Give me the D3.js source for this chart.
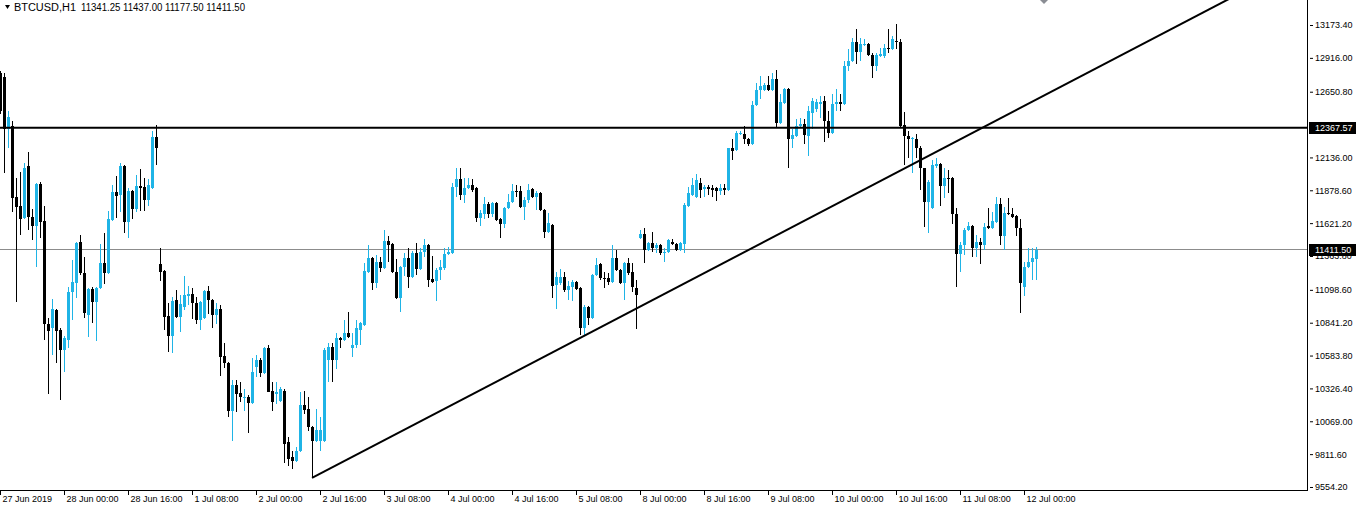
<!DOCTYPE html>
<html><head><meta charset="utf-8">
<script src="https://cdn.jsdelivr.net/npm/d3@7"></script>
<style>
html,body{margin:0;padding:0;background:#fff;overflow:hidden;}
svg{display:block;}
text{font-family:"Liberation Sans",Arial,sans-serif;}
</style></head><body>
<svg id="chart" width="1358" height="510"></svg>
<script>
// ---------------- data ----------------
const symbolTitle = "BTCUSD,H1";
const titleValues = "11341.25 11437.00 11177.50 11411.50";

const open = [
12798,12767,12362,12385,11823,11753,11660,12065,11667,11597,
11925,11636,10833,10802,10942,10786,10630,10708,11082,11153,
11472,11231,10903,11106,11004,11114,11309,11231,11644,11862,
11839,12065,11628,11870,11730,11909,11901,11800,11894,12299,
11301,11246,10895,10739,11020,10887,10965,11051,11067,10997,
10864,10880,11090,11020,10903,10950,10583,10529,10146,10357,
10287,10256,10263,10209,10497,10552,10451,10646,10310,10279,
10224,10310,9905,9788,9756,9834,10193,10162,10022,9912,
9912,9912,10552,10653,10552,10724,10708,10763,10646,10669,
10786,10825,11238,11348,11153,11316,11270,11480,11457,11238,
11036,11277,11348,11199,11387,11262,11394,11449,11184,11168,
11254,11270,11379,11387,11901,11964,11839,11894,11917,11894,
11660,11691,11769,11691,11777,11652,11613,11738,11784,11870,
11870,11745,11800,11886,11823,11855,11722,11550,11605,11137,
11153,11199,11098,11121,11160,11114,10802,10965,10880,11215,
11301,11192,11192,11160,11348,11254,11153,11309,11238,11114,
11504,11535,11410,11465,11426,11449,11387,11394,11472,11457,
11410,11457,11753,11839,11823,11933,11886,11901,11894,11894,
11870,11894,11878,12206,12198,12323,12323,12284,12245,12549,
12666,12666,12705,12666,12752,12408,12564,12674,12284,12307,
12385,12401,12307,12486,12518,12557,12580,12424,12330,12557,
12572,12557,12853,12892,13040,12962,13017,13025,12939,12853,
12931,12931,12993,12986,13048,13040,12393,12307,12284,12284,
12206,12050,11784,11738,12065,12081,11909,11972,11972,11691,
11379,11449,11566,11597,11426,11472,11449,11597,11582,11628,
11769,11519,11699,11691,11675,11582,11121,11277,11316,11341.25
];
const high = [
12814,12798,12502,12424,11972,12018,12096,12182,11730,11933,
11940,11753,10880,11028,10950,10802,10739,11121,11332,11472,
11527,11355,11114,11121,11121,11457,11543,11714,11917,11987,
12096,12073,11894,11878,11995,12042,11972,11964,12346,12393,
11426,11254,10997,11043,11098,11059,11207,11129,11114,11043,
11012,11098,11129,11028,10997,10981,10685,10536,10396,10396,
10380,10318,10271,10568,10591,10568,10653,10669,10373,10373,
10334,10318,9944,9834,9866,10295,10310,10256,10029,10162,
10100,10646,10685,10685,10763,10731,10864,10926,10763,10864,
10848,11309,11449,11355,11371,11355,11566,11519,11465,11340,
11285,11387,11426,11402,11465,11426,11496,11457,11363,11270,
11332,11426,11433,11933,12050,12050,11972,11972,11964,11901,
11722,11823,11784,11784,11784,11660,11745,11847,11925,11917,
11909,11823,11925,11894,11870,11862,11730,11699,11613,11238,
11262,11238,11168,11176,11168,11121,10981,10973,11223,11348,
11309,11238,11231,11449,11410,11262,11316,11348,11309,11176,
11566,11582,11472,11550,11465,11457,11426,11496,11496,11465,
11472,11777,11901,11972,12003,11972,11917,11917,11917,11901,
11925,11925,12213,12284,12346,12346,12385,12291,12580,12720,
12775,12720,12775,12798,12822,12635,12681,12681,12362,12440,
12447,12440,12541,12603,12596,12619,12619,12502,12635,12674,
12635,12892,12986,13071,13142,13071,13064,13032,12954,12954,
12993,13025,13142,13087,13181,13064,12494,12346,12299,12323,
12229,12057,11956,12112,12128,12089,12050,12034,11979,11738,
11472,11582,11628,11605,11527,11504,11621,11738,11706,11823,
11816,11745,11816,11738,11683,11652,11316,11426,11426,11437.00
];
const low = [
12479,12011,12206,11706,11004,11527,11652,11566,11488,11277,
11504,10708,10279,10591,10529,10232,10458,10646,10864,11036,
11215,10880,10731,10841,10700,11106,11145,11223,11636,11660,
11706,11543,11504,11652,11706,11714,11714,11753,11886,12073,
11168,10786,10614,10607,10880,10770,10942,10981,10872,10833,
10786,10872,10911,10802,10833,10427,10490,10100,9912,10139,
10217,10146,9975,10201,10412,10412,10443,10295,10146,10201,
10217,9741,9717,9694,9749,9827,10123,9990,9632,9905,
9834,9905,10373,10380,10482,10646,10700,10724,10575,10646,
10669,10817,11231,11098,11114,11238,11262,11316,11231,11028,
10926,11207,11114,11192,11215,11254,11355,11121,11153,11012,
11176,11254,11371,11379,11823,11800,11777,11886,11862,11628,
11597,11652,11660,11667,11636,11504,11582,11730,11777,11823,
11738,11644,11777,11816,11722,11714,11504,11543,11036,10950,
11137,11082,11020,11012,11098,10747,10747,10825,10872,11207,
11176,11114,11137,11153,11246,11145,11020,11215,11082,10794,
11496,11309,11402,11394,11387,11371,11316,11387,11449,11402,
11402,11387,11745,11831,11816,11816,11823,11839,11823,11792,
11839,11839,11870,12112,12190,12315,12245,12229,12237,12541,
12596,12658,12658,12658,12369,12401,12557,12050,12206,12299,
12377,12245,12151,12362,12494,12447,12260,12291,12323,12502,
12502,12549,12814,12884,12869,12892,13009,12931,12759,12814,
12923,12915,12954,12978,12986,12377,12073,12135,12011,12128,
11878,11589,11543,11730,12057,11753,11816,11855,11613,11121,
11238,11371,11558,11355,11355,11301,11410,11574,11574,11621,
11449,11410,11683,11660,11519,10919,11051,11270,11176,11177.50
];
const close = [
12502,12362,12455,11816,11745,11652,12057,11667,11597,11925,
11628,10833,10778,10950,10778,10630,10724,11082,11160,11465,
11231,10919,11106,11004,11114,11309,11231,11652,11862,11831,
12065,11628,11870,11730,11909,11894,11800,11917,12299,12213,
11238,10887,10739,11012,10887,10989,11059,11067,10997,10864,
11004,11090,11020,10903,10950,10575,10529,10146,10357,10279,
10256,10263,10209,10458,10552,10451,10646,10302,10217,10302,
10318,9889,9772,9756,9834,10193,10154,10022,9912,9998,
9998,10630,10653,10552,10724,10708,10763,10731,10669,10802,
10841,11246,11348,11153,11316,11270,11480,11449,11238,11036,
11277,11348,11199,11387,11262,11394,11449,11176,11160,11254,
11277,11379,11394,11901,11964,11839,11894,11917,11878,11660,
11699,11769,11691,11777,11644,11613,11738,11784,11870,11862,
11745,11800,11878,11823,11855,11722,11550,11621,11129,11199,
11199,11098,11129,11160,11106,10802,10965,10880,11215,11293,
11192,11184,11160,11348,11254,11153,11309,11231,11121,11059,
11535,11410,11465,11426,11449,11387,11394,11488,11457,11410,
11465,11761,11855,11917,11956,11878,11901,11886,11878,11870,
11894,11878,12206,12190,12330,12330,12284,12245,12549,12666,
12697,12705,12666,12752,12408,12572,12674,12284,12315,12385,
12401,12315,12502,12580,12572,12572,12424,12330,12557,12572,
12557,12853,12892,13040,12962,13025,13025,12939,12853,12939,
12947,12993,12986,13064,13040,12385,12307,12284,12291,12206,
12050,11784,11940,12073,12081,11909,11972,11964,11691,11379,
11449,11566,11597,11426,11472,11449,11589,11582,11636,11769,
11519,11699,11691,11667,11582,11153,11277,11316,11348,11411.50
];

const timeLabels = ["27 Jun 2019","28 Jun 00:00","28 Jun 16:00","1 Jul 08:00","2 Jul 00:00",
  "2 Jul 16:00","3 Jul 08:00","4 Jul 00:00","4 Jul 16:00","5 Jul 08:00","8 Jul 00:00",
  "8 Jul 16:00","9 Jul 08:00","10 Jul 00:00","10 Jul 16:00","11 Jul 08:00","12 Jul 00:00"];
const timeLabelBars = [0,16,32,48,64,80,96,112,128,144,160,176,192,208,224,240,256];
const priceTicks = [13173.40,12916.00,12650.80,12136.00,11878.60,11621.20,11363.80,
  11098.60,10841.20,10583.80,10326.40,10069.00,9811.60,9554.20];

const resistanceLevel = 12367.57;
const bidPrice = 11411.50;
const trendBars = [78, 298];
const trendPrices = [9625, 13226];
const chartShiftBar = 261;

// ---------------- layout ----------------
const plotW = 1307, plotH = 490;
const upColor = "#1fb4e6", downColor = "#000000";
const svg = d3.select("#chart");

const x = d3.scaleLinear().domain([0, 326.75]).range([0, plotW]);
const y = d3.scaleLinear().domain([9530.6, 13369.3]).range([plotH, 0]);

const bars = close.map((c, i) => ({i, o: open[i], h: high[i], l: low[i], c}));

svg.append("defs").append("clipPath").attr("id", "plotclip")
  .append("rect").attr("x", 0).attr("y", 0).attr("width", plotW).attr("height", plotH);

const plot = svg.append("g").attr("clip-path", "url(#plotclip)");

// bid (current price) line
plot.append("line")
  .attr("x1", 0).attr("x2", plotW)
  .attr("y1", Math.floor(y(bidPrice)) + 0.5).attr("y2", Math.floor(y(bidPrice)) + 0.5)
  .attr("stroke", "#8c8c8c").attr("stroke-width", 1);

// candles
const cg = plot.append("g").attr("shape-rendering", "crispEdges");
cg.selectAll("rect.wick").data(bars).join("rect").attr("class", "wick")
  .attr("x", d => Math.round(x(d.i)))
  .attr("width", 1)
  .attr("y", d => Math.round(y(d.h)))
  .attr("height", d => Math.max(1, Math.round(y(d.l)) - Math.round(y(d.h))))
  .attr("fill", d => d.c >= d.o ? upColor : downColor);
cg.selectAll("rect.body").data(bars).join("rect").attr("class", "body")
  .attr("x", d => Math.round(x(d.i)) - 1)
  .attr("width", 3)
  .attr("y", d => Math.round(y(Math.max(d.o, d.c))))
  .attr("height", d => Math.max(1, Math.round(y(Math.min(d.o, d.c))) - Math.round(y(Math.max(d.o, d.c)))))
  .attr("fill", d => d.c >= d.o ? upColor : downColor);

// horizontal resistance line
plot.append("line")
  .attr("x1", 0).attr("x2", plotW)
  .attr("y1", y(resistanceLevel)).attr("y2", y(resistanceLevel))
  .attr("stroke", "#000").attr("stroke-width", 2);

// trend line (ray extended to the right)
const slope = (trendPrices[1] - trendPrices[0]) / (trendBars[1] - trendBars[0]);
const endBar = 340;
plot.append("line")
  .attr("x1", x(trendBars[0])).attr("y1", y(trendPrices[0]))
  .attr("x2", x(endBar)).attr("y2", y(trendPrices[0] + slope * (endBar - trendBars[0])))
  .attr("stroke", "#000").attr("stroke-width", 2);

// chart shift marker
const sx = x(chartShiftBar);
svg.append("path")
  .attr("d", `M${sx - 5},-1 L${sx + 5},-1 L${sx},4 Z`)
  .attr("fill", "#8a8d94");

// axes lines
svg.append("line").attr("x1", plotW + 0.5).attr("x2", plotW + 0.5).attr("y1", 0).attr("y2", plotH + 1)
  .attr("stroke", "#000").attr("stroke-width", 1);
svg.append("line").attr("x1", 0).attr("x2", plotW + 1).attr("y1", plotH + 0.5).attr("y2", plotH + 0.5)
  .attr("stroke", "#000").attr("stroke-width", 1);

// right price axis
const yAxis = d3.axisRight(y).tickValues(priceTicks).tickFormat(d3.format(".2f"))
  .tickSize(3).tickPadding(2);
const ya = svg.append("g").attr("transform", `translate(${plotW + 3},0)`).call(yAxis);
ya.select(".domain").remove();
ya.selectAll("line").attr("stroke", "#000");
ya.selectAll("text").attr("font-size", 9).attr("fill", "#000")
  .attr("font-family", "'Liberation Sans', Arial, sans-serif");

// bottom time axis
const xAxis = d3.axisBottom(x).tickValues(timeLabelBars)
  .tickFormat((d, i) => timeLabels[i]).tickSize(5);
const xa = svg.append("g").attr("transform", `translate(0,${plotH})`).call(xAxis);
xa.select(".domain").remove();
xa.selectAll("line").attr("stroke", "#000");
xa.selectAll("text").attr("font-size", 9).attr("fill", "#000")
  .attr("text-anchor", "start").attr("x", 2).attr("y", 6).attr("dy", "0.71em")
  .attr("font-family", "'Liberation Sans', Arial, sans-serif");

// price label boxes
function priceBox(p) {
  const yy = y(p);
  const g = svg.append("g");
  g.append("rect").attr("x", plotW + 2).attr("y", Math.round(yy) - 6)
    .attr("width", 47).attr("height", 12).attr("fill", "#000");
  g.append("text").attr("x", plotW + 8).attr("y", yy).attr("dy", "0.34em")
    .attr("font-size", 9).attr("fill", "#fff").text(d3.format(".2f")(p));
}
priceBox(resistanceLevel);
priceBox(bidPrice);

// title
svg.append("path").attr("d", "M5,5 L10,5 L7.5,9 Z").attr("fill", "#000");
svg.append("text").attr("x", 14).attr("y", 11).attr("font-size", 10).attr("fill", "#000")
  .attr("textLength", 62).attr("lengthAdjust", "spacingAndGlyphs").text(symbolTitle);
svg.append("text").attr("x", 81).attr("y", 11).attr("font-size", 10).attr("fill", "#000")
  .attr("textLength", 164).attr("lengthAdjust", "spacingAndGlyphs").text(titleValues);
</script>
</body></html>
